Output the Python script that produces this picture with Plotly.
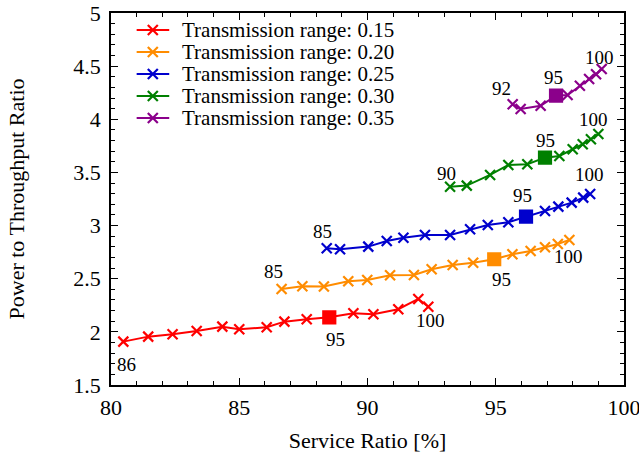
import plotly.graph_objects as go

# ---------------- data ----------------
series_names = ["Transmission range: 0.15", "Transmission range: 0.20",
                "Transmission range: 0.25", "Transmission range: 0.30",
                "Transmission range: 0.35"]
colors = ["#ff0000", "#ff8c00", "#0000cd", "#008000", "#8b008b"]

sr_015 = [80.48, 81.45, 82.40, 83.34, 84.34, 85.00, 86.07, 86.76, 87.63, 88.51, 89.45, 90.23, 91.20, 91.98, 92.37]
ptr_015 = [1.908, 1.955, 1.977, 2.008, 2.049, 2.024, 2.043, 2.096, 2.118, 2.137, 2.175, 2.165, 2.213, 2.310, 2.237]
lvl_015 = list(range(86, 101))

sr_020 = [86.65, 87.46, 88.30, 89.25, 89.99, 90.88, 91.81, 92.50, 93.32, 94.12, 94.94, 95.65, 96.36, 96.92, 97.42, 97.87]
ptr_020 = [2.404, 2.429, 2.426, 2.476, 2.488, 2.532, 2.535, 2.589, 2.629, 2.651, 2.683, 2.730, 2.761, 2.796, 2.827, 2.865]
lvl_020 = list(range(85, 101))

sr_025 = [88.41, 88.93, 90.03, 90.75, 91.40, 92.24, 93.22, 94.00, 94.69, 95.49, 96.18, 96.92, 97.44, 97.96, 98.41, 98.68]
ptr_025 = [2.786, 2.777, 2.802, 2.855, 2.886, 2.912, 2.912, 2.965, 3.006, 3.031, 3.084, 3.137, 3.178, 3.216, 3.263, 3.297]
lvl_025 = list(range(85, 101))

sr_030 = [93.22, 93.87, 94.78, 95.49, 96.23, 96.92, 97.48, 98.00, 98.39, 98.71, 99.00]
ptr_030 = [3.366, 3.376, 3.476, 3.570, 3.577, 3.639, 3.655, 3.718, 3.765, 3.812, 3.862]
lvl_030 = list(range(90, 101))

sr_035 = [95.66, 95.97, 96.75, 97.35, 97.80, 98.28, 98.64, 98.91, 99.13]
ptr_035 = [4.141, 4.097, 4.128, 4.222, 4.229, 4.316, 4.379, 4.423, 4.473]
lvl_035 = list(range(92, 101))

# labelled service levels per series and their pixel offsets (dx, dy up)
label_levels = {
    0: {86: (3, -23), 95: (6, -22), 100: (2, -14)},
    1: {85: (-8, 17), 95: (7, -20), 100: (-1, -17)},
    2: {85: (-4, 17), 95: (-4, 21), 100: (-1, 20)},
    3: {90: (-4, 13), 95: (0, 17), 100: (-5, 14)},
    4: {92: (-11, 16), 95: (-3, 18), 100: (-2, 12)},
}
highlight_level = 95

x_ticks = [80, 85, 90, 95, 100]
y_ticks = [1.5, 2, 2.5, 3, 3.5, 4, 4.5, 5]

all_sr = [sr_015, sr_020, sr_025, sr_030, sr_035]
all_ptr = [ptr_015, ptr_020, ptr_025, ptr_030, ptr_035]
all_lvl = [lvl_015, lvl_020, lvl_025, lvl_030, lvl_035]

FONT = "Liberation Serif"

fig = go.Figure()
annotations = []
for i in range(5):
    sym = ["square" if l == highlight_level else "x-thin" for l in all_lvl[i]]
    size = [12 if l == highlight_level else 10 for l in all_lvl[i]]
    fig.add_trace(go.Scatter(
        x=all_sr[i], y=all_ptr[i], mode="lines+markers",
        line=dict(color=colors[i], width=2),
        marker=dict(symbol=sym, size=size, color=colors[i], opacity=1,
                    line=dict(color=colors[i], width=2.2)),
        showlegend=False, name=series_names[i]))
    for lv, (dx, dy) in label_levels[i].items():
        k = all_lvl[i].index(lv)
        annotations.append(dict(x=all_sr[i][k], y=all_ptr[i][k], xref="x", yref="y",
                                text=str(lv), showarrow=False, xshift=dx, yshift=dy,
                                font=dict(family=FONT, size=19, color="black")))

# custom legend (drawn on an overlay axis spanning 0..1)
leg_x = [0.050, 0.0815, 0.1135]
leg_text_x = 0.135
leg_y = [0.9543, 0.8952, 0.8360, 0.7769, 0.7177]
for i in range(5):
    fig.add_trace(go.Scatter(
        x=leg_x, y=[leg_y[i]] * 3, xaxis="x2", yaxis="y2", mode="lines+markers",
        line=dict(color=colors[i], width=2),
        marker=dict(symbol="x-thin", size=[0, 10, 0], color=colors[i], opacity=1,
                    line=dict(color=colors[i], width=2.2)),
        showlegend=False, hoverinfo="skip"))
    annotations.append(dict(x=leg_text_x, y=leg_y[i], xref="x2", yref="y2",
                            text=series_names[i], showarrow=False, xanchor="left",
                            font=dict(family=FONT, size=21, color="black")))

axis_common = dict(showgrid=False, zeroline=False, showline=True, linecolor="black",
                   linewidth=1.5, mirror="allticks", ticks="inside", ticklen=7,
                   tickwidth=1, tickcolor="black", automargin=False,
                   ticklabeloverflow="allow",
                   tickfont=dict(family=FONT, size=22, color="black"))

fig.update_layout(
    width=639, height=455, plot_bgcolor="white", paper_bgcolor="white",
    margin=dict(l=111, r=15, t=13, b=70, autoexpand=False),
    font=dict(family=FONT, size=22, color="black"),
    xaxis=dict(range=[80, 100], tickvals=x_ticks, ticktext=[str(v) for v in x_ticks],
               minor=dict(dtick=1, ticks="inside", ticklen=4, tickcolor="black"),
               title=dict(text="Service Ratio [%]", standoff=13,
                          font=dict(family=FONT, size=22)),
               ticklabelstandoff=2, **axis_common),
    yaxis=dict(range=[1.5, 5], tickvals=y_ticks, ticktext=[f"{v:g}" for v in y_ticks],
               minor=dict(dtick=0.1, ticks="inside", ticklen=4, tickcolor="black"),
               title=dict(text="Power to Throughput Ratio", standoff=43,
                          font=dict(family=FONT, size=22)),
               ticklabelstandoff=4, **axis_common),
    xaxis2=dict(overlaying="x", range=[0, 1], visible=False, anchor="y2"),
    yaxis2=dict(overlaying="y", range=[0, 1], visible=False, anchor="x2"),
    annotations=annotations,
)

fig.write_html("out.html", config={"displayModeBar": False},
               post_script="document.body.style.margin='0';document.body.style.overflow='hidden';")
